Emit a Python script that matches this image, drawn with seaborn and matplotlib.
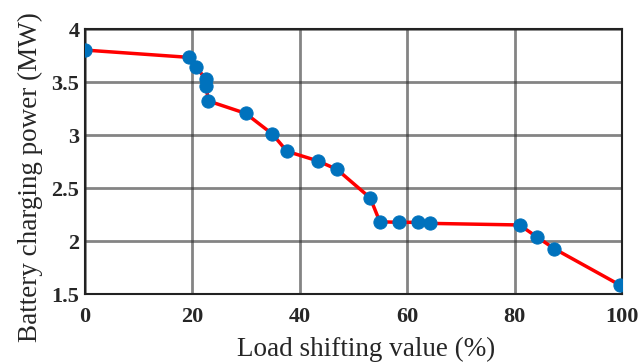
import matplotlib
matplotlib.use("Agg")
import matplotlib.pyplot as plt
import seaborn as sns
import pandas as pd

load_shift = [0, 19.4, 20.65, 22.5, 22.6, 22.9, 29.9, 34.9, 37.6, 43.3, 46.9,
              53.1, 54.9, 58.5, 62.0, 64.2, 80.9, 84.2, 87.4, 99.7]
charging_power = [3.805, 3.736, 3.647, 3.531, 3.468, 3.326, 3.208, 3.012, 2.85, 2.76, 2.68,
                  2.41, 2.185, 2.18, 2.18, 2.17, 2.155, 2.04, 1.93, 1.585]
x_ticks = [0, 20, 40, 60, 80, 100]
y_ticks = [1.5, 2, 2.5, 3, 3.5, 4]
y_tick_labels = ["1.5", "2", "2.5", "3", "3.5", "4"]

sns.set_style("white")
plt.rcParams['font.family'] = ['Liberation Serif', 'DejaVu Serif']

df = pd.DataFrame({"x": load_shift, "y": charging_power})

fig = plt.figure(figsize=(6.44, 3.63), dpi=100)
ax = fig.add_axes([0.132, 0.189, 0.834, 0.730])

sns.lineplot(data=df, x="x", y="y", sort=False, ax=ax, color="#ff0000", linewidth=2.5,
             marker="o", markersize=9.5, markerfacecolor="#0072BD", markeredgecolor="#0072BD",
             zorder=3)

ax.set_xlim(0, 100)
ax.set_ylim(1.5, 4)
ax.set_xticks(x_ticks)
ax.set_yticks(y_ticks)
ax.set_yticklabels(y_tick_labels)
ax.grid(True, color="#333333", linewidth=2, alpha=0.6)
ax.set_axisbelow(True)
for s in ax.spines.values():
    s.set_color("#222222")
    s.set_linewidth(1.5)
ax.tick_params(axis="x", which="both", length=0, pad=9, labelsize=16)
ax.tick_params(axis="y", which="both", length=0, pad=4, labelsize=16)
for lbl in ax.get_xticklabels() + ax.get_yticklabels():
    lbl.set_fontweight("bold")
ax.set_xlabel("Load shifting value (%)", fontsize=19.5, labelpad=7)
ax.set_ylabel("Battery charging power (MW)", fontsize=19.5, labelpad=6)
ax.xaxis.label.set_x(0.523)
ax.yaxis.label.set_y(0.443)

fig.savefig("out.png", dpi=100)
